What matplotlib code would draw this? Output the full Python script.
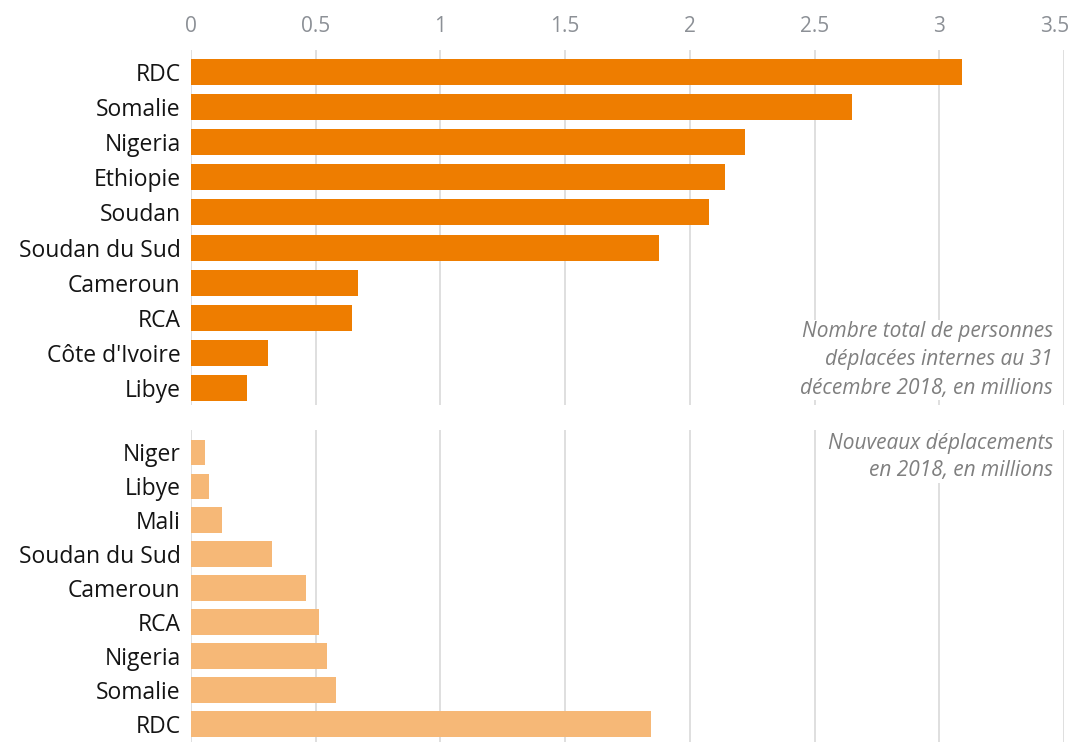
import matplotlib
matplotlib.use("Agg")
import matplotlib.pyplot as plt
from matplotlib.transforms import ScaledTranslation

# Data
top_countries = ["RDC", "Somalie", "Nigeria", "Ethiopie", "Soudan", "Soudan du Sud",
                 "Cameroun", "RCA", "Côte d'Ivoire", "Libye"]
top_values = [3.09, 2.65, 2.22, 2.14, 2.075, 1.875, 0.67, 0.645, 0.31, 0.225]

bottom_countries = ["Niger", "Libye", "Mali", "Soudan du Sud", "Cameroun", "RCA",
                    "Nigeria", "Somalie", "RDC"]
bottom_values = [0.055, 0.072, 0.125, 0.325, 0.46, 0.515, 0.545, 0.58, 1.845]

xticks = [0, 0.5, 1, 1.5, 2, 2.5, 3, 3.5]
xtick_labels = ["0", "0.5", "1", "1.5", "2", "2.5", "3", "3.5"]

top_note = "Nombre total de personnes\ndéplacées internes au 31\ndécembre 2018, en millions"
bottom_note = "Nouveaux déplacements\nen 2018, en millions"

plt.rcParams['font.family'] = ['Open Sans', 'DejaVu Sans']

W, H = 1075, 742
fig = plt.figure(figsize=(W / 100, H / 100), dpi=100)

left = 191 / W
width = (1064 - 191) / W

ax1 = fig.add_axes([left, 1 - 405 / H, width, (405 - 50) / H])
ax2 = fig.add_axes([left, 0, width, (742 - 430) / H])

grid_color = "#dcdcdc"
label_color = "#141414"

for ax, cats, vals, color, ylim in [
    (ax1, top_countries, top_values, "#EE7D00", (9.48, -0.62)),
    (ax2, bottom_countries, bottom_values, "#F6B877", (8.53, -0.65)),
]:
    y = list(range(len(cats)))
    ax.barh(y, vals, height=0.74, color=color, zorder=2)
    ax.set_yticks(y)
    ax.set_yticklabels(cats, fontsize=16.5, color=label_color)
    ax.set_ylim(*ylim)
    ax.set_xlim(0, 3.5)
    ax.set_xticks(xticks)
    ax.tick_params(axis='y', length=0, pad=7.5)
    ax.tick_params(axis='x', length=0)
    for xv in xticks:
        ax.axvline(xv, color=grid_color, lw=1.3, zorder=1)
    for s in ax.spines.values():
        s.set_visible(False)

ax1.xaxis.tick_top()
ax1.set_xticklabels(xtick_labels, fontsize=15, color="#8c9096")
ax1.tick_params(axis='x', pad=9)
# shift the last tick label so it stays inside the figure
last = ax1.get_xticklabels()[-1]
last.set_transform(last.get_transform() + ScaledTranslation(-9 / 100, 0, fig.dpi_scale_trans))
ax2.set_xticklabels([])

ax1.text(1053 / W, 1 - 360 / H, top_note, transform=fig.transFigure, ha='right', va='center',
         fontsize=15, style='italic', color="#7f7f7f", linespacing=1.45,
         bbox=dict(facecolor='white', edgecolor='none', pad=1))
ax2.text(1053 / W, 1 - 457 / H, bottom_note, transform=fig.transFigure, ha='right', va='center',
         fontsize=15, style='italic', color="#7f7f7f", linespacing=1.4,
         bbox=dict(facecolor='white', edgecolor='none', pad=1))

fig.savefig("out.png", dpi=100)
